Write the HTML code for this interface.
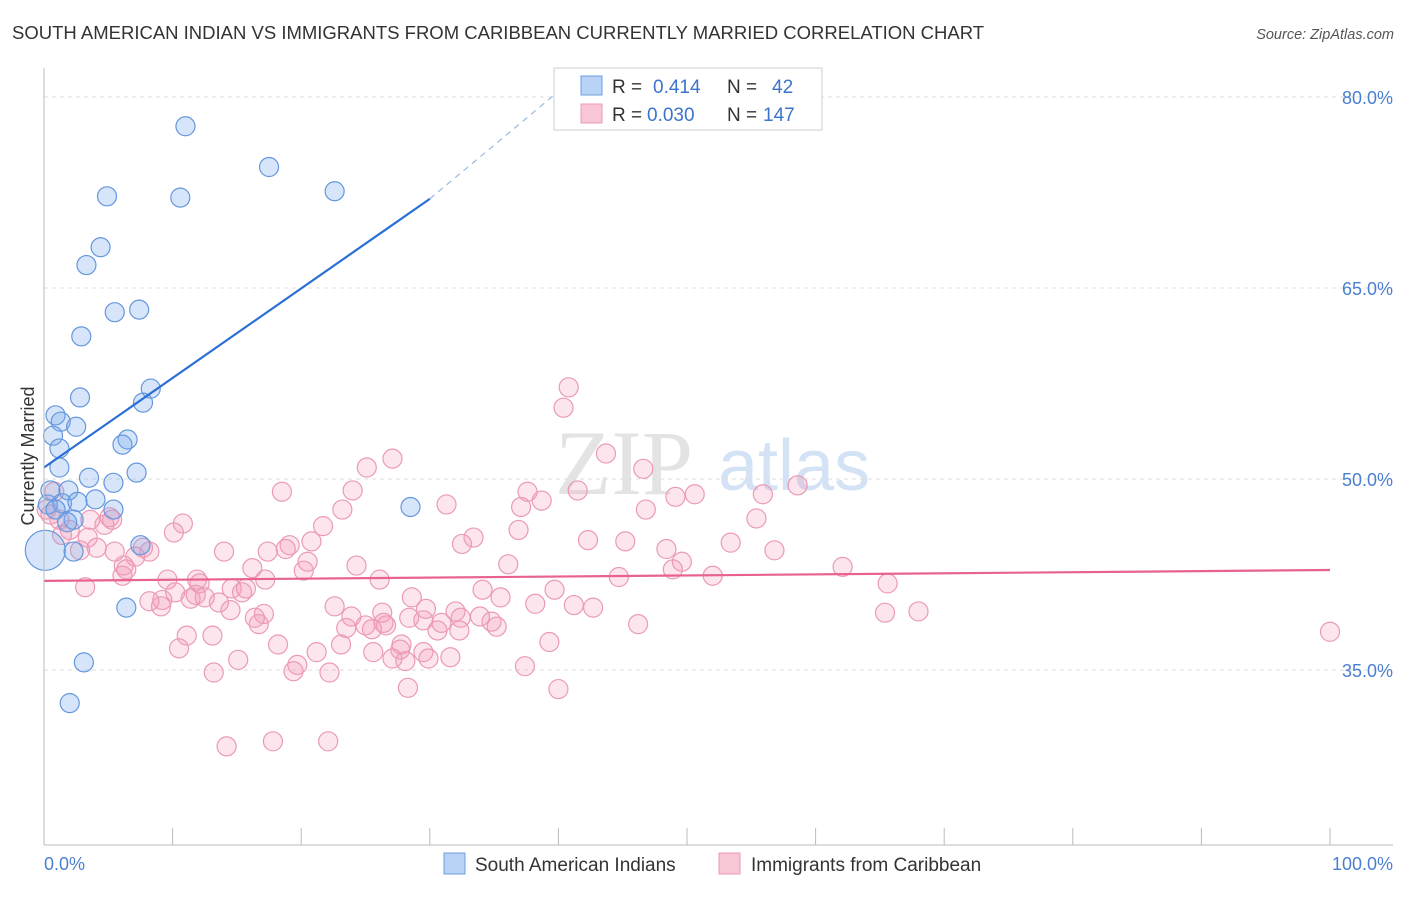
<!DOCTYPE html>
<html><head><meta charset="utf-8"><style>
body{margin:0;background:#fff;font-family:"Liberation Sans",sans-serif;}
</style></head><body>
<svg id="chart" width="1406" height="892" xmlns="http://www.w3.org/2000/svg" style="font-family:'Liberation Sans',sans-serif">
<text x="12" y="39" font-size="18.5" fill="#333">SOUTH AMERICAN INDIAN VS IMMIGRANTS FROM CARIBBEAN CURRENTLY MARRIED CORRELATION CHART</text>
<text x="1394" y="39" font-size="14.5" fill="#555" font-style="italic" text-anchor="end">Source: ZipAtlas.com</text>
<text x="555" y="494" font-size="92" fill="#ddd" font-family="Liberation Serif" opacity="0.8">ZIP</text>
<text x="718" y="490" font-size="72" fill="#c9dcf2" opacity="0.8">atlas</text>
<g id="grid"></g><g id="marks"></g><g id="lines"></g>
<line x1="44" y1="68" x2="44" y2="845" stroke="#bbb"/>
<line x1="44" y1="845" x2="1393" y2="845" stroke="#bbb"/>
<text transform="translate(34,456) rotate(-90)" font-size="18" fill="#333" text-anchor="middle">Currently Married</text>
<text x="44" y="870" font-size="18" fill="#4a7fd0">0.0%</text>
<text x="1393" y="870" font-size="18" fill="#4a7fd0" text-anchor="end">100.0%</text>
<g>
<rect x="554" y="68" width="268" height="62" fill="#fff" stroke="#ccc"/>
<rect x="581" y="76" width="21" height="19" fill="#b8d3f5" stroke="#6d9ee0"/>
<rect x="581" y="104" width="21" height="19" fill="#f9c6d6" stroke="#ea9ab4"/>
<text x="612" y="93" font-size="19" fill="#333">R =</text>
<text x="653" y="93" font-size="19" fill="#3b74cc">0.414</text>
<text x="727" y="93" font-size="19" fill="#333">N =</text>
<text x="772" y="93" font-size="19" fill="#3b74cc">42</text>
<text x="612" y="121" font-size="19" fill="#333">R =</text>
<text x="647" y="121" font-size="19" fill="#3b74cc">0.030</text>
<text x="727" y="121" font-size="19" fill="#333">N =</text>
<text x="763" y="121" font-size="19" fill="#3b74cc">147</text>
</g>
<g>
<rect x="444" y="853" width="21" height="21" fill="#b8d3f5" stroke="#6d9ee0"/>
<text x="475" y="871" font-size="19" fill="#333">South American Indians</text>
<rect x="719" y="853" width="21" height="21" fill="#f9c6d6" stroke="#ea9ab4"/>
<text x="751" y="871" font-size="19" fill="#333">Immigrants from Caribbean</text>
</g>
</svg>
<script>
const yTicks=[80,65,50,35];
const xTicks=[0,10,20,30,40,50,60,70,80,90,100];
const blueX=[11.0,17.5,4.9,10.6,22.6,4.4,3.3,5.5,7.4,2.9,8.3,2.8,7.7,0.9,1.3,2.5,0.7,6.5,6.1,1.2,1.2,7.2,3.5,5.4,0.5,1.9,4.0,1.4,2.6,0.3,0.9,5.4,2.3,1.8,7.5,2.3,0.1,6.4,3.1,2.0,28.5];
const blueY=[77.7,74.5,72.2,72.1,72.6,68.2,66.8,63.1,63.3,61.2,57.1,56.4,56.0,55.0,54.5,54.1,53.4,53.1,52.7,52.4,50.9,50.5,50.1,49.7,49.1,49.1,48.4,48.1,48.2,48.0,47.6,47.6,46.8,46.6,44.8,44.3,44.4,39.9,35.6,32.4,47.8];
const pinkX=[40.8,40.4,43.7,27.1,25.1,46.6,58.6,18.5,24.0,37.6,55.9,50.6,49.1,41.5,38.7,31.3,37.1,23.2,46.8,55.4,10.8,21.7,36.9,10.1,5.1,4.7,5.3,3.6,1.2,2.0,1.4,3.4,33.4,32.5,42.3,45.2,53.4,20.8,19.1,18.8,17.4,14.0,8.2,7.1,7.7,4.1,2.8,5.5,48.4,56.8,6.2,6.4,6.1,49.6,48.9,36.1,20.5,20.2,24.3,16.2,26.1,17.2,11.9,9.6,12.1,65.6,44.7,52.0,62.1,3.2,39.7,34.1,10.2,11.8,12.5,14.6,15.7,15.4,9.2,8.2,9.1,11.4,13.6,28.6,35.5,22.6,38.2,41.2,42.7,29.7,32.0,26.3,14.5,17.1,16.4,16.7,23.9,28.4,29.5,32.4,33.9,34.8,35.2,65.4,68.0,46.2,25.0,26.4,23.5,25.5,26.6,30.6,30.9,32.3,11.1,13.1,18.2,23.1,39.3,27.8,27.7,29.5,31.6,10.5,21.2,25.6,27.1,28.1,29.9,15.1,19.7,19.4,13.2,22.2,37.4,28.3,40.0,14.2,17.8,22.1,100,0.2,0.5,0.8];
const pinkY=[57.2,55.6,52.0,51.6,50.9,50.8,49.5,49.0,49.1,49.0,48.8,48.8,48.6,49.1,48.3,48.0,47.8,47.6,47.6,46.9,46.5,46.3,46.0,45.8,47.0,46.4,46.8,46.8,46.8,46.0,45.6,45.4,45.4,44.9,45.2,45.1,45.0,45.1,44.8,44.5,44.3,44.3,44.3,43.9,44.6,44.6,44.4,44.3,44.5,44.4,43.2,42.9,42.4,43.5,42.9,43.3,43.5,42.8,43.2,43.0,42.1,42.1,42.1,42.1,41.8,41.8,42.3,42.4,43.1,41.5,41.3,41.3,41.1,40.9,40.7,41.4,41.4,41.1,40.5,40.4,40.0,40.6,40.3,40.7,40.7,40.0,40.2,40.1,39.9,39.8,39.6,39.5,39.7,39.4,39.1,38.6,39.2,39.1,38.9,39.1,39.2,38.8,38.4,39.5,39.6,38.6,38.5,38.7,38.3,38.2,38.5,38.1,38.7,38.1,37.7,37.7,37.0,37.0,37.2,37.0,36.6,36.4,36.0,36.7,36.4,36.4,35.9,35.7,35.9,35.8,35.4,34.9,34.8,34.8,35.3,33.6,33.5,29.0,29.4,29.4,38.0,47.6,47.2,49.0];
const blueLine=[50.9,72.0,81.7];
const blueLineX=[0,30,41.5];
const pinkLine=[42.0,42.85];
const pinkLineX=[0,100];
const NS="http://www.w3.org/2000/svg";
const sx=v=>44+v*12.86;
const sy=v=>97+(80-v)*12.733;
function mk(t,a,p){const e=document.createElementNS(NS,t);for(const k in a)e.setAttribute(k,a[k]);p.appendChild(e);return e;}
const grid=document.getElementById('grid'),marks=document.getElementById('marks'),lines=document.getElementById('lines');
yTicks.forEach(t=>{
 const l=mk('line',{x1:44,x2:1393,y1:sy(t),y2:sy(t),stroke:'#ddd','stroke-dasharray':'4,4'},grid);
 
 
 const tx=mk('text',{x:1393,y:sy(t)+7,'font-size':18,fill:'#4a7fd0','text-anchor':'end'},grid);
 tx.textContent=t.toFixed(1)+'%';
 
 
});
xTicks.forEach(t=>{
 const l=mk('line',{x1:sx(t),x2:sx(t),y1:828,y2:845,stroke:'#bbb'},grid);
 
 
});
pinkX.forEach((x,i)=>{
 const c=mk('circle',{cx:sx(x),cy:sy(pinkY[i]),r:9.5,fill:'rgba(244,150,182,0.25)',stroke:'#eb9ab5','stroke-width':1.2},marks);
 
 
});
blueX.forEach((x,i)=>{
 const c=mk('circle',{cx:sx(x),cy:sy(blueY[i]),r:(i===36?20:9.5),fill:'rgba(120,170,235,0.3)',stroke:'#6597dd','stroke-width':1.2},marks);
 
 
});
let l1=mk('line',{x1:sx(blueLineX[0]),y1:sy(blueLine[0]),x2:sx(blueLineX[1]),y2:sy(blueLine[1]),stroke:'#2a6fd6','stroke-width':2.2},lines);


let l2=mk('line',{x1:sx(blueLineX[1]),y1:sy(blueLine[1]),x2:sx(blueLineX[2]),y2:sy(blueLine[2]),stroke:'#9bb8e0','stroke-width':1.2,'stroke-dasharray':'6,5'},lines);


let l3=mk('line',{x1:sx(pinkLineX[0]),y1:sy(pinkLine[0]),x2:sx(pinkLineX[1]),y2:sy(pinkLine[1]),stroke:'#e8628f','stroke-width':2.2},lines);


</script>
</body></html>
